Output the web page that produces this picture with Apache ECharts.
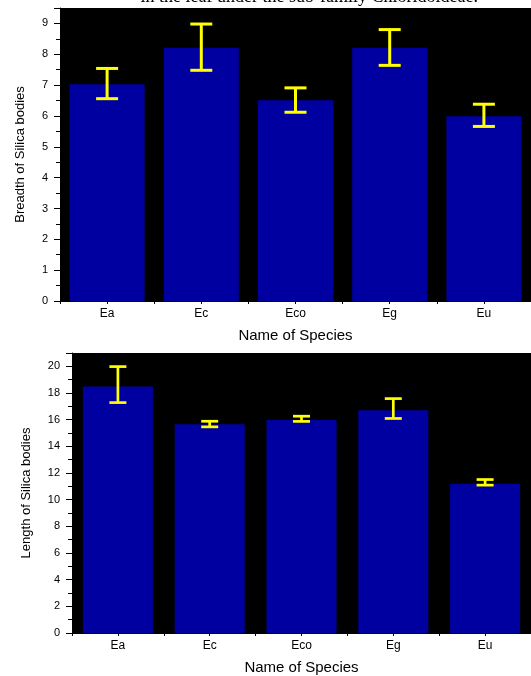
<!DOCTYPE html>
<html><head><meta charset="utf-8">
<script src="https://cdn.jsdelivr.net/npm/echarts@6/dist/echarts.min.js"></script>
<style>html,body{margin:0;padding:0;background:#fff}#c{width:531px;height:676px}</style>
</head><body><div id="c"></div>
<script>
// ---- data ----
const species = ['Ea', 'Ec', 'Eco', 'Eg', 'Eu'];
const breadthMean = [7.03, 8.21, 6.51, 8.21, 5.99];
const breadthLow  = [6.56, 7.48, 6.12, 7.64, 5.66];
const breadthHigh = [7.54, 8.98, 6.91, 8.80, 6.38];
const lengthMean  = [18.49, 15.66, 15.98, 16.70, 11.19];
const lengthLow   = [17.28, 15.46, 15.87, 16.09, 11.09];
const lengthHigh  = [19.98, 15.88, 16.26, 17.58, 11.51];
const breadthAxis = { min: 0, max: 9.5, step: 1 };
const lengthAxis  = { min: 0, max: 21, step: 2 };
const yNames = ['Breadth of Silica bodies', 'Length of Silica bodies'];
const xName = 'Name of Species';
const caption = 'in the leaf under the sub-family Chloridoideae.';

const FONT = '"Liberation Sans", Arial, sans-serif';
const chart = echarts.init(document.getElementById('c'), null, { renderer: 'canvas' });

function errSeries(xi, yi, low, high, cap, lw) {
  return {
    type: 'custom', xAxisIndex: xi, yAxisIndex: yi, z: 5,
    encode: { x: 0, y: [1, 2] },
    data: species.map((s, i) => [i, low[i], high[i]]),
    renderItem: function (params, api) {
      const i = api.value(0);
      const top = api.coord([i, api.value(2)]);
      const bot = api.coord([i, api.value(1)]);
      const h = cap / 2;
      const st = { stroke: '#ffff00', lineWidth: lw };
      return { type: 'group', children: [
        { type: 'line', shape: { x1: top[0], y1: top[1], x2: bot[0], y2: bot[1] }, style: st },
        { type: 'line', shape: { x1: top[0] - h, y1: top[1], x2: top[0] + h, y2: top[1] }, style: st },
        { type: 'line', shape: { x1: bot[0] - h, y1: bot[1], x2: bot[0] + h, y2: bot[1] }, style: st }
      ]};
    }
  };
}

function xMain(gi, gap) {
  return {
    type: 'category', gridIndex: gi, data: species, boundaryGap: true,
    axisLine: { show: true, lineStyle: { color: '#000', width: 1 } },
    axisTick: { show: true, alignWithLabel: true, length: 3, lineStyle: { color: '#000' } },
    axisLabel: { color: '#000', fontFamily: FONT, fontSize: 12, margin: 7 },
    name: xName, nameLocation: 'middle', nameGap: gap,
    nameTextStyle: { color: '#000', fontFamily: FONT, fontSize: 15 },
    splitLine: { show: false }
  };
}
function xMinor(gi) {
  return {
    type: 'category', gridIndex: gi, data: species, boundaryGap: true, position: 'bottom',
    axisLine: { show: false },
    axisTick: { show: true, length: 3, lineStyle: { color: '#000' } },
    axisLabel: { show: false }, splitLine: { show: false }
  };
}
function yAx(gi, ax, name, gap) {
  return {
    type: 'value', gridIndex: gi, min: ax.min, max: ax.max, interval: ax.step,
    axisLine: { show: true, lineStyle: { color: '#000', width: 1 } },
    axisTick: { show: true, length: 6, lineStyle: { color: '#000' } },
    minorTick: { show: true, splitNumber: 2, length: 4, lineStyle: { color: '#000' } },
    axisLabel: { color: '#000', fontFamily: FONT, fontSize: 11, margin: 12, showMaxLabel: false },
    splitLine: { show: false }, minorSplitLine: { show: false },
    name: name, nameLocation: 'middle', nameGap: gap,
    nameTextStyle: { color: '#000', fontFamily: FONT, fontSize: 13 }
  };
}

chart.setOption({
  animation: false,
  backgroundColor: '#fff',
  graphic: [{
    type: 'text', x: 478, y: 6,
    style: { text: caption, fill: '#000', font: '18px "Liberation Serif", "Times New Roman", serif',
             textAlign: 'right', textVerticalAlign: 'bottom', verticalAlign: 'bottom', align: 'right' }
  }],
  grid: [
    { left: 60, top: 8, width: 476, height: 293, show: true, backgroundColor: '#000', borderWidth: 0 },
    { left: 72, top: 353, width: 463, height: 282, show: true, backgroundColor: '#000', borderWidth: 0 }
  ],
  xAxis: [xMain(0, 27), xMinor(0), xMain(1, 27), xMinor(1)],
  yAxis: [yAx(0, breadthAxis, yNames[0], 33), yAx(1, lengthAxis, yNames[1], 39)],
  series: [
    { type: 'bar', xAxisIndex: 0, yAxisIndex: 0, data: breadthMean, barWidth: 75,
      itemStyle: { color: '#0000a0' } },
    { type: 'bar', xAxisIndex: 2, yAxisIndex: 1, data: lengthMean, barWidth: 70,
      itemStyle: { color: '#0000a0' } },
    errSeries(0, 0, breadthLow, breadthHigh, 22, 3),
    errSeries(2, 1, lengthLow, lengthHigh, 17, 2.7)
  ]
});
</script></body></html>
